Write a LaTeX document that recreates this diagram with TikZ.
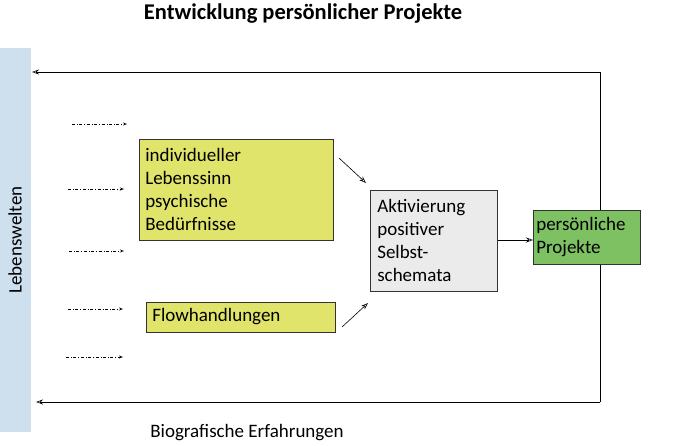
\documentclass[tikz,border=0pt]{standalone}
\usepackage{fontspec}
\setmainfont{Carlito}
\usetikzlibrary{arrows.meta}
\begin{document}
\begin{tikzpicture}[x=1pt,y=-1pt,
  box/.style={draw=black!80,line width=0.6pt,anchor=north west,align=left,inner sep=0pt,font=\fontsize{19}{23}\selectfont},
  dd/.style={dash dot,-{Stealth[length=4pt,width=3pt,open]},line width=0.4pt},
  ar/.style={-{Stealth[length=7pt,width=5pt,open]},line width=0.6pt}]
\useasboundingbox (0,0) rectangle (685,445);
\node[font=\bfseries\fontsize{22.5}{24}\selectfont] (title) at (303,14) {Entwicklung persönlicher Projekte};
\fill[fill={rgb,255:red,206;green,224;blue,238}] (0,48) rectangle (31,432);
\node[rotate=90,font=\fontsize{19}{20}\selectfont] (lw) at (15,240) {Lebenswelten};
\coordinate (tr) at (600,72); \coordinate (tl) at (32,72);
\coordinate (br) at (600,402); \coordinate (bl) at (36,402);
\draw[ar] (tr) -- (tl);
\draw[line width=0.6pt] (tr) -- (br);
\draw[ar] (br) -- (bl);
\foreach \a/\b/\y [count=\i] in {72/127/124,68/124/189,69/124/251,68/123/309,66/123/357}{
  \coordinate (s\i) at (\a,\y); \coordinate (e\i) at (\b,\y);
  \draw[dd] (s\i) -- (e\i);}
\node[box,fill={rgb,255:red,224;green,228;blue,106},minimum width=192pt,minimum height=101pt,text width=182pt,inner xsep=6pt,inner ysep=4pt] (b1) at (139,139) {individueller\\Lebenssinn\\psychische\\Bedürfnisse};
\node[box,fill={rgb,255:red,224;green,228;blue,106},minimum width=187pt,minimum height=30pt,text width=177pt,inner xsep=6pt,anchor=west] (b2) at (146,317) {Flowhandlungen};
\node[box,fill={rgb,255:red,235;green,235;blue,235},minimum width=123pt,minimum height=101pt,text width=113pt,inner xsep=7pt,inner ysep=4pt] (b3) at (370,190) {Aktivierung\\positiver\\Selbst-\\schemata};
\node[box,fill={rgb,255:red,125;green,193;blue,99},minimum width=107pt,minimum height=54pt,text width=101pt,inner xsep=3pt,inner ysep=4pt] (b4) at (533,210) {persönliche\\Projekte};
\coordinate (a1s) at (339,158); \coordinate (a1e) at (366,183);
\coordinate (a2s) at (342,327); \coordinate (a2e) at (368,303);
\draw[ar] (a1s) -- (a1e);
\draw[ar] (a2s) -- (a2e);
\draw[ar] (b3.east |- 0,240) -- (b4.west |- 0,240);
\node[font=\fontsize{19}{20}\selectfont] (bio) at (247,433) {Biografische Erfahrungen};
\end{tikzpicture}
\end{document}
